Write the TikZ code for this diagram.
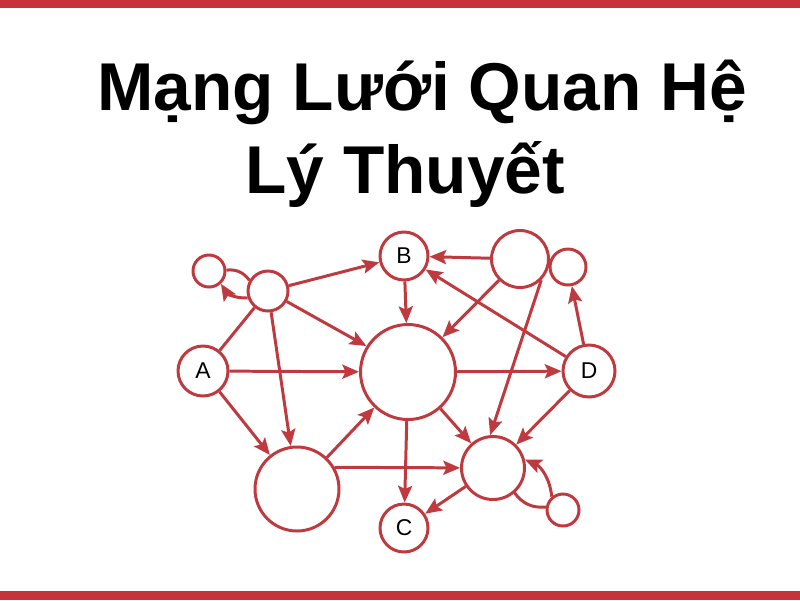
\documentclass[tikz,border=0pt]{standalone}
\usepackage{fontspec}
\setmainfont{Liberation Sans}
\usetikzlibrary{arrows.meta}
\definecolor{netred}{HTML}{BF3A3E}
\definecolor{barred}{HTML}{C8323A}

\begin{document}
\begin{tikzpicture}[x=0.02cm, y=0.02cm,
  circ/.style={circle, draw=netred, line width=1.7pt, fill=white, inner sep=0pt,
    minimum size=#1, font=\fontsize{13}{13}\selectfont},
  tie/.style={draw=netred, line width=1.7pt},
  link/.style={tie, -{Stealth[length=9.5pt,width=8pt,inset=1.8pt]}}]
\useasboundingbox (0,0) rectangle (800,-600);
\fill[white] (0,0) rectangle (800,-600);
\fill[barred] (0,0) rectangle (800,-8);
\fill[barred] (0,-591) rectangle (800,-600);

% title
\node[anchor=base west, inner sep=0, font=\fontsize{38.5}{38.5}\selectfont\bfseries] (title) at (97,-110) {Mạng Lưới Quan Hệ};
\node[anchor=base west, inner sep=0, font=\fontsize{38.5}{38.5}\selectfont\bfseries] (subtitle) at (245,-193) {Lý Thuyết};

% nodes
\node[circ=0.64cm] (s1) at (209,-271) {};
\node[circ=0.8cm]  (n1) at (268,-291) {};
\node[circ=0.96cm] (B)  at (404,-256) {B};
\node[circ=1.14cm] (T)  at (520,-259) {};
\node[circ=0.72cm] (R)  at (568,-267) {};
\node[circ=1.0cm]  (A)  at (203,-371) {A};
\node[circ=1.9cm]  (M)  at (408,-372) {};
\node[circ=1.04cm] (D)  at (589,-371) {D};
\node[circ=1.68cm] (L)  at (297,-489) {};
\node[circ=1.26cm] (E)  at (493,-468) {};
\node[circ=0.96cm] (C)  at (404,-528) {C};
\node[circ=0.64cm] (S)  at (563,-510) {};

% links
\draw[tie] (s1.3) to[bend left=30] (n1.150);
\draw[link] (n1.199) to[bend left=30] (s1.-47);
\draw[tie] (A) -- (n1);
\foreach \a/\b in {n1/B, n1/M.148, n1/L, A/M, A/L, B/M, T/B, D/B, T/M, T.-45/E.95,
  D/R, M/D, D/E, M/E, M/C, L/M, L.30/E, E/C} {
 \draw[link] (\a) -- (\b);
}
\draw[tie] (E.-49) to[bend right=30] (S.170);
\draw[link] (S.130) to[bend right=30] (E.15);
\end{tikzpicture}
\end{document}
